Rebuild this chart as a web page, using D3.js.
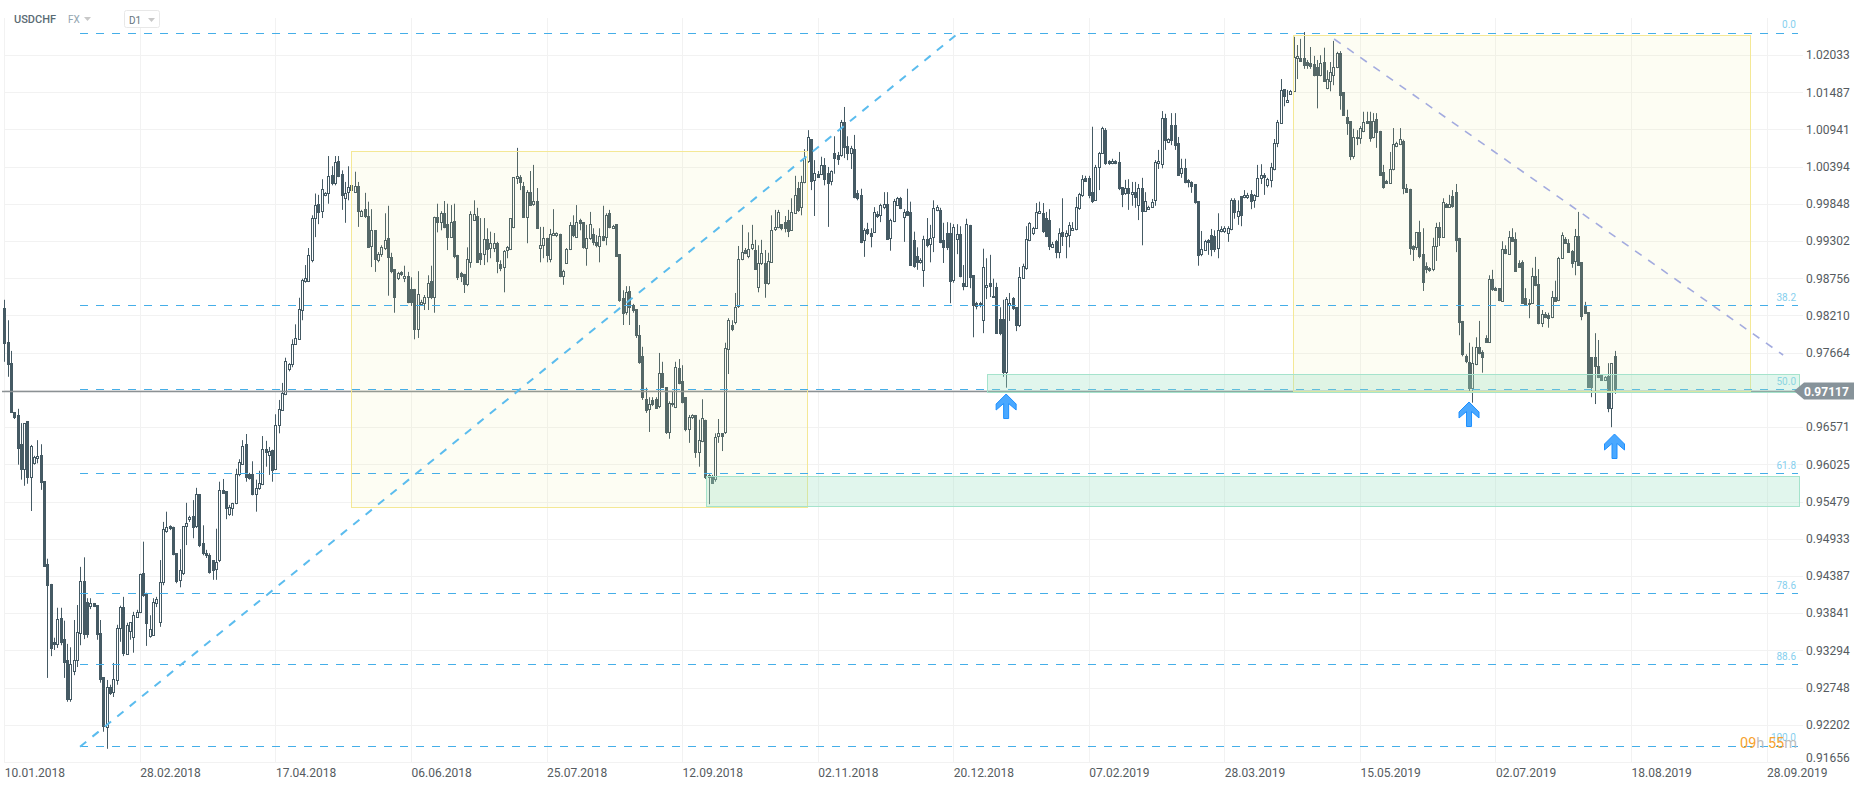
<!DOCTYPE html>
<html>
<head>
<meta charset="utf-8">
<title>USDCHF D1</title>
<script src="https://cdnjs.cloudflare.com/ajax/libs/d3/7.8.5/d3.min.js"></script>
<style>
  html, body { margin: 0; background: #fff; }
  svg { display: block; font-family: Roboto, sans-serif; }
  .axis path, .axis line { display: none; }
  .axis text { font-size: 12px; fill: #555b60; font-family: Roboto, sans-serif; }
</style>
</head>
<body>
<svg id="chart" width="1866" height="788"></svg>
<script>
// daily USDCHF candles
var opens = [
.9832,.9782,.9751,.9679,.9675,.9632,.9596,.9666,.9584,.9604,
.9612,.9616,.9578,.9456,.9427,.9342,.9339,.9377,.9346,.9315,
.9258,.9299,.9315,.9355,.9431,.9400,.9395,.9399,.9396,.9355,
.9290,.9218,.9276,.9268,.9286,.9362,.9393,.9324,.9358,.9349,
.9378,.9386,.9443,.9414,.9351,.9351,.9399,.9371,.9430,.9505,
.9512,.9511,.9472,.9433,.9443,.9511,.9522,.9527,.9512,.9559,
.9487,.9472,.9469,.9462,.9449,.9462,.9565,.9563,.9530,.9538,
.9546,.9588,.9604,.9632,.9588,.9588,.9559,.9568,.9574,.9625,
.9616,.9624,.9596,.9660,.9682,.9706,.9742,.9750,.9779,.9786,
.9829,.9872,.9872,.9902,.9964,.9985,.9973,.9998,1.0001,1.0027,
1.0015,1.0048,1.0029,.9993,1.0001,1.0004,1.0002,1.0011,.9967,.9977,
.9967,.9923,.9946,.9902,.9910,.9920,.9935,.9907,.9889,.9876,
.9885,.9876,.9879,.9860,.9860,.9801,.9838,.9839,.9848,.9872,
.9848,.9966,.9958,.9971,.9955,.9936,.9960,.9910,.9883,.9882,
.9867,.9899,.9961,.9967,.9913,.9911,.9933,.9919,.9919,.9927,
.9897,.9892,.9916,.9919,.9951,1.0023,1.0024,1.0011,.9966,1.0002,
.9985,.9989,.9919,.9924,.9935,.9904,.9939,.9939,.9941,.9879,
.9899,.9919,.9954,.9936,.9961,.9958,.9921,.9935,.9941,.9929,
.9924,.9938,.9936,.9971,.9949,.9955,.9911,.9847,.9825,.9857,
.9836,.9830,.9792,.9761,.9698,.9684,.9697,.9698,.9688,.9737,
.9716,.9650,.9692,.9687,.9744,.9725,.9701,.9654,.9672,.9675,
.9621,.9637,.9668,.9587,.9585,.9582,.9643,.9648,.9650,.9772,
.9807,.9811,.9835,.9904,.9917,.9908,.9920,.9917,.9863,.9898,
.9898,.9869,.9899,.9948,.9951,.9955,.9958,.9961,.9946,.9971,
1.0008,.9980,1.0017,1.0048,1.0080,1.0020,1.0029,1.0029,1.0042,1.0030,
1.0018,1.0059,1.0057,1.0057,1.0105,1.0070,1.0059,1.0065,1.0001,.9998,
.9932,.9948,.9942,.9943,.9970,.9968,.9980,.9985,.9935,.9960,
.9983,.9993,.9966,.9974,.9973,.9932,.9908,.9899,.9888,.9933,
.9926,.9936,.9976,.9976,.9932,.9942,.9942,.9873,.9933,.9941,
.9869,.9864,.9954,.9880,.9839,.9839,.9814,.9863,.9869,.9848,
.9863,.9816,.9816,.9738,.9836,.9847,.9833,.9807,.9877,.9891,
.9932,.9942,.9949,.9971,.9971,.9964,.9961,.9921,.9930,.9914,
.9944,.9938,.9939,.9946,.9948,.9979,.9998,1.0023,1.0023,1.0002,
.9990,1.0039,1.0059,1.0093,1.0048,1.0045,1.0048,1.0046,1.0009,1.0001,
1.0008,.9999,1.0002,.9983,1.0008,.9974,.9977,.9980,.9990,1.0045,
1.0043,1.0111,1.0076,1.0101,1.0101,1.0074,1.0029,1.0037,1.0020,1.0017,
1.0014,.9989,.9911,.9917,.9932,.9939,.9938,.9920,.9945,.9945,
.9942,.9948,.9990,.9967,.9996,.9995,.9995,.9999,.9990,.9996,
1.0023,1.0027,1.0012,1.0020,1.0036,1.0074,1.0103,1.0153,1.0134,1.0145,
1.0150,1.0199,1.0199,1.0199,1.0193,1.0192,1.0190,1.0186,1.0174,1.0193,
1.0155,1.0165,1.0174,1.0186,1.0206,1.0149,1.0112,1.0106,1.0055,1.0083,
1.0081,1.0092,1.0106,1.0106,1.0083,1.0109,1.0092,1.0032,1.0018,1.0015,
1.0036,1.0070,1.0073,1.0077,1.0008,1.0007,.9923,.9921,.9943,.9911,
.9894,.9891,.9889,.9923,.9951,.9936,.9985,.9980,.9996,1.0002,
.9935,.9813,.9761,.9753,.9715,.9750,.9775,.9767,.9788,.9782,
.9875,.9861,.9861,.9842,.9919,.9911,.9936,.9933,.9898,.9899,
.9847,.9838,.9839,.9879,.9867,.9810,.9823,.9822,.9819,.9848,
.9844,.9905,.9933,.9927,.9916,.9901,.9938,.9899,.9835,.9826,
.9760,.9760,.9747,.9734,.9726,.9732,.9685,.9761
];

var closes = [
.9781,.9750,.9679,.9672,.9627,.9596,.9663,.9584,.9630,.9613,
.9615,.9577,.9453,.9425,.9333,.9339,.9375,.9342,.9312,.9258,
.9309,.9315,.9356,.9431,.9353,.9353,.9399,.9395,.9353,.9287,
.9218,.9276,.9267,.9287,.9362,.9393,.9326,.9367,.9371,.9381,
.9386,.9442,.9411,.9370,.9361,.9400,.9405,.9430,.9508,.9511,
.9509,.9472,.9431,.9447,.9512,.9516,.9525,.9511,.9559,.9484,
.9472,.9469,.9444,.9447,.9459,.9565,.9560,.9538,.9540,.9546,
.9588,.9606,.9630,.9584,.9582,.9559,.9568,.9575,.9625,.9620,
.9622,.9594,.9660,.9684,.9707,.9754,.9750,.9779,.9788,.9830,
.9873,.9876,.9910,.9964,.9983,.9973,1.0006,1.0001,1.0026,1.0015,
1.0046,1.0026,.9998,1.0001,1.0009,1.0012,1.0011,.9974,.9974,.9966,
.9921,.9946,.9904,.9911,.9921,.9932,.9907,.9886,.9848,.9883,
.9882,.9879,.9841,.9841,.9801,.9853,.9841,.9848,.9869,.9848,
.9966,.9958,.9971,.9951,.9936,.9958,.9908,.9877,.9879,.9867,
.9904,.9970,.9970,.9899,.9904,.9933,.9919,.9927,.9927,.9901,
.9891,.9916,.9921,.9964,1.0024,1.0026,1.0017,.9966,1.0002,.9983,
.9989,.9949,.9924,.9935,.9910,.9941,.9942,.9942,.9879,.9886,
.9919,.9954,.9939,.9958,.9957,.9921,.9935,.9955,.9929,.9924,
.9938,.9932,.9968,.9951,.9952,.9908,.9844,.9825,.9855,.9833,
.9828,.9792,.9753,.9701,.9682,.9691,.9691,.9685,.9737,.9716,
.9650,.9692,.9690,.9745,.9722,.9694,.9654,.9672,.9675,.9621,
.9638,.9671,.9584,.9584,.9575,.9643,.9648,.9644,.9773,.9814,
.9801,.9833,.9904,.9914,.9913,.9919,.9926,.9889,.9898,.9913,
.9869,.9901,.9946,.9951,.9973,.9949,.9949,.9945,.9973,.9998,
.9976,1.0017,1.0052,1.0083,1.0018,1.0030,1.0024,1.0042,1.0021,1.0015,
1.0033,1.0052,1.0051,1.0105,1.0068,1.0059,1.0067,.9995,.9993,.9929,
.9946,.9942,.9938,.9973,.9967,.9983,.9985,.9933,.9961,.9989,
.9993,.9979,.9973,.9968,.9895,.9894,.9899,.9902,.9933,.9924,
.9935,.9979,.9980,.9929,.9921,.9921,.9872,.9951,.9941,.9880,
.9864,.9955,.9877,.9836,.9835,.9836,.9892,.9866,.9864,.9850,
.9795,.9795,.9738,.9845,.9839,.9832,.9806,.9877,.9894,.9933,
.9957,.9949,.9973,.9974,.9944,.9938,.9923,.9926,.9914,.9942,
.9938,.9942,.9954,.9949,.9980,.9999,1.0021,1.0018,.9998,.9989,
1.0039,1.0059,1.0096,1.0045,1.0045,1.0048,1.0045,1.0008,.9999,1.0008,
1.0001,1.0002,.9995,1.0008,.9974,.9989,.9980,.9987,1.0046,1.0048,
1.0111,1.0079,1.0080,1.0079,1.0071,1.0027,1.0037,1.0017,1.0017,1.0011,
.9988,.9910,.9919,.9930,.9929,.9919,.9919,.9946,.9948,.9949,
.9949,.9990,.9973,.9974,.9968,.9998,.9998,.9989,.9998,1.0023,
1.0027,1.0024,1.0021,1.0039,1.0074,1.0105,1.0152,1.0142,1.0137,1.0150,
1.0200,1.0202,1.0194,1.0189,1.0189,1.0187,1.0174,1.0174,1.0192,1.0165,
1.0168,1.0178,1.0186,1.0206,1.0145,1.0115,1.0103,1.0055,1.0083,1.0081,
1.0096,1.0105,1.0103,1.0081,1.0106,1.0090,1.0027,1.0010,1.0015,1.0036,
1.0073,1.0074,1.0080,1.0008,1.0002,.9921,.9919,.9943,.9908,.9870,
.9889,.9888,.9923,.9951,.9936,.9987,.9980,.9985,.9982,.9932,
.9811,.9764,.9753,.9715,.9751,.9775,.9766,.9759,.9782,.9875,
.9860,.9858,.9844,.9919,.9913,.9936,.9930,.9886,.9892,.9839,
.9838,.9839,.9879,.9866,.9810,.9823,.9819,.9817,.9848,.9842,
.9905,.9939,.9927,.9914,.9899,.9938,.9895,.9820,.9825,.9716,
.9716,.9747,.9731,.9726,.9731,.9685,.9751,.9712
];

var highs = [
.9844,.9814,.9769,.9679,.9684,.9663,.9663,.9666,.9631,.9615,
.9638,.9632,.9578,.9464,.9427,.9348,.9392,.9392,.9373,.9339,
.9334,.9374,.9396,.9452,.9466,.9406,.9406,.9399,.9396,.9374,
.9290,.9286,.9279,.9311,.9367,.9395,.9408,.9370,.9371,.9386,
.9389,.9442,.9489,.9414,.9381,.9406,.9408,.9462,.9518,.9533,
.9513,.9511,.9472,.9478,.9512,.9546,.9527,.9550,.9568,.9559,
.9513,.9477,.9472,.9462,.9508,.9577,.9581,.9563,.9543,.9546,
.9596,.9610,.9638,.9647,.9590,.9607,.9580,.9593,.9644,.9637,
.9628,.9624,.9676,.9697,.9722,.9759,.9751,.9786,.9808,.9847,
.9875,.9895,.9920,.9968,1.0000,.9998,1.0021,1.0002,1.0055,1.0040,
1.0055,1.0055,1.0034,1.0017,1.0040,1.0015,1.0032,1.0017,.9976,1.0001,
.9988,.9977,.9946,.9914,.9924,.9971,.9982,.9913,.9889,.9885,
.9886,.9894,.9885,.9877,.9860,.9886,.9844,.9851,.9880,.9894,
.9966,.9985,.9974,.9989,.9985,.9983,.9985,.9910,.9885,.9882,
.9921,.9974,.9990,.9979,.9964,.9964,.9949,.9944,.9942,.9929,
.9902,.9917,.9923,.9964,1.0024,1.0067,1.0027,1.0017,1.0005,1.0033,
1.0042,1.0008,.9951,.9951,.9935,.9948,.9977,.9943,.9941,.9888,
.9920,.9958,.9968,.9983,.9963,.9958,.9954,.9973,.9949,.9939,
.9949,.9982,.9971,.9976,.9954,.9955,.9911,.9858,.9864,.9864,
.9838,.9830,.9807,.9775,.9715,.9701,.9701,.9701,.9766,.9753,
.9716,.9695,.9709,.9753,.9757,.9748,.9701,.9675,.9676,.9675,
.9668,.9698,.9668,.9588,.9587,.9648,.9669,.9648,.9781,.9817,
.9814,.9854,.9923,.9954,.9920,.9943,.9954,.9932,.9924,.9932,
.9917,.9913,.9968,.9976,.9976,.9955,.9967,.9976,.9993,1.0026,
1.0017,1.0026,1.0065,1.0093,1.0080,1.0049,1.0033,1.0054,1.0052,1.0039,
1.0034,1.0084,1.0061,1.0108,1.0127,1.0084,1.0070,1.0086,1.0005,1.0007,
.9949,.9957,.9949,.9980,.9974,.9985,1.0002,1.0002,.9963,.9992,
.9995,.9995,.9977,1.0007,.9988,.9944,.9921,.9905,.9938,.9964,
.9954,.9990,.9983,.9979,.9957,.9958,.9957,.9955,.9955,.9952,
.9895,.9963,.9954,.9880,.9841,.9841,.9919,.9905,.9910,.9875,
.9869,.9833,.9844,.9848,.9854,.9848,.9833,.9892,.9897,.9952,
.9958,.9951,.9986,.9988,.9986,.9973,.9977,.9929,.9932,.9949,
.9993,.9946,.9958,.9958,.9995,1.0001,1.0027,1.0026,1.0026,1.0098,
1.0042,1.0061,1.0098,1.0096,1.0049,1.0051,1.0049,1.0061,1.0009,1.0020,
1.0021,1.0017,1.0017,1.0014,1.0023,1.0002,.9982,.9992,1.0049,1.0064,
1.0121,1.0117,1.0081,1.0118,1.0118,1.0083,1.0051,1.0051,1.0021,1.0018,
1.0014,.9989,.9945,.9932,.9933,.9948,.9946,.9971,.9952,.9952,
.9952,.9993,.9993,.9990,.9996,1.0005,1.0001,1.0005,.9999,1.0042,
1.0043,1.0030,1.0023,1.0045,1.0080,1.0108,1.0168,1.0153,1.0152,1.0152,
1.0230,1.0218,1.0227,1.0237,1.0196,1.0215,1.0202,1.0196,1.0203,1.0214,
1.0181,1.0193,1.0224,1.0208,1.0209,1.0149,1.0123,1.0106,1.0095,1.0093,
1.0099,1.0120,1.0120,1.0120,1.0118,1.0118,1.0092,1.0042,1.0020,1.0061,
1.0096,1.0076,1.0096,1.0079,1.0014,1.0007,.9924,.9943,.9960,.9949,
.9899,.9892,.9935,.9957,.9958,.9993,.9986,.9998,1.0005,1.0014,
.9935,.9813,.9764,.9781,.9775,.9789,.9813,.9770,.9792,.9880,
.9888,.9863,.9861,.9930,.9924,.9945,.9949,.9943,.9902,.9902,
.9861,.9845,.9891,.9907,.9889,.9829,.9826,.9825,.9857,.9872,
.9907,.9943,.9936,.9933,.9917,.9948,.9973,.9899,.9841,.9826,
.9760,.9795,.9785,.9735,.9732,.9751,.9751,.9769
];

var lows = [
.9753,.9731,.9679,.9669,.9602,.9580,.9571,.9574,.9534,.9602,
.9604,.9565,.9452,.9289,.9321,.9330,.9333,.9337,.9289,.9254,
.9254,.9293,.9305,.9337,.9346,.9348,.9390,.9393,.9345,.9282,
.9210,.9185,.9264,.9261,.9279,.9342,.9321,.9323,.9345,.9326,
.9377,.9384,.9408,.9336,.9348,.9351,.9393,.9364,.9425,.9502,
.9506,.9469,.9428,.9422,.9440,.9484,.9518,.9494,.9509,.9481,
.9469,.9465,.9442,.9433,.9433,.9459,.9559,.9522,.9527,.9527,
.9544,.9585,.9602,.9577,.9580,.9557,.9533,.9565,.9572,.9599,
.9587,.9577,.9594,.9648,.9681,.9704,.9739,.9745,.9778,.9785,
.9814,.9869,.9870,.9899,.9936,.9955,.9964,.9996,.9985,1.0012,
1.0012,1.0024,.9976,.9957,.9990,1.0001,1.0001,.9951,.9966,.9964,
.9920,.9892,.9885,.9899,.9907,.9917,.9850,.9883,.9825,.9873,
.9879,.9870,.9839,.9835,.9786,.9788,.9836,.9829,.9829,.9845,
.9825,.9943,.9946,.9949,.9917,.9935,.9905,.9873,.9870,.9854,
.9864,.9891,.9960,.9898,.9895,.9895,.9899,.9905,.9914,.9883,
.9886,.9855,.9905,.9917,.9949,1.0014,1.0005,.9964,.9927,.9982,
.9982,.9948,.9899,.9905,.9899,.9899,.9938,.9936,.9877,.9866,
.9898,.9917,.9936,.9935,.9946,.9919,.9894,.9932,.9924,.9921,
.9899,.9930,.9924,.9949,.9948,.9907,.9841,.9807,.9822,.9807,
.9825,.9788,.9750,.9697,.9678,.9650,.9688,.9684,.9685,.9715,
.9647,.9640,.9687,.9685,.9720,.9692,.9651,.9634,.9669,.9612,
.9599,.9635,.9581,.9544,.9574,.9577,.9634,.9622,.9647,.9735,
.9798,.9808,.9832,.9902,.9911,.9905,.9917,.9888,.9855,.9895,
.9847,.9866,.9898,.9945,.9949,.9946,.9943,.9936,.9945,.9970,
.9973,.9968,1.0015,1.0045,1.0005,.9967,1.0023,1.0027,1.0012,.9951,
1.0012,1.0029,1.0042,1.0054,1.0052,1.0049,1.0036,.9993,.9990,.9927,
.9907,.9939,.9921,.9942,.9964,.9958,.9977,.9932,.9916,.9958,
.9982,.9977,.9929,.9967,.9894,.9891,.9888,.9897,.9863,.9921,
.9899,.9914,.9974,.9927,.9898,.9917,.9839,.9869,.9911,.9877,
.9858,.9863,.9861,.9789,.9830,.9833,.9795,.9845,.9848,.9847,
.9794,.9792,.9731,.9715,.9813,.9829,.9798,.9804,.9876,.9888,
.9930,.9939,.9948,.9970,.9942,.9936,.9917,.9920,.9905,.9905,
.9923,.9905,.9921,.9945,.9946,.9976,.9995,1.0017,.9993,.9986,
.9989,1.0005,1.0058,1.0042,1.0042,1.0043,1.0043,1.0005,.9980,.9998,
.9976,.9982,.9979,.9961,.9924,.9973,.9976,.9979,.9982,1.0036,
1.0037,1.0064,1.0074,1.0071,1.0064,1.0026,1.0023,1.0015,1.0009,1.0001,
.9985,.9894,.9908,.9916,.9910,.9908,.9914,.9905,.9943,.9942,
.9929,.9946,.9963,.9954,.9952,.9993,.9992,.9977,.9979,.9995,
1.0014,.9998,1.0009,1.0009,1.0034,1.0068,1.0103,1.0128,1.0133,1.0145,
1.0149,1.0168,1.0193,1.0183,1.0183,1.0183,1.0172,1.0125,1.0172,1.0164,
1.0153,1.0150,1.0159,1.0184,1.0123,1.0114,1.0086,1.0049,1.0051,1.0071,
1.0073,1.0090,1.0102,1.0076,1.0081,1.0067,1.0026,1.0007,1.0014,1.0014,
1.0034,1.0068,1.0071,.9999,1.0001,.9910,.9901,.9917,.9905,.9857,
.9883,.9885,.9886,.9901,.9923,.9935,.9979,.9979,.9979,.9914,
.9792,.9761,.9751,.9710,.9693,.9748,.9764,.9737,.9781,.9781,
.9857,.9857,.9842,.9841,.9911,.9910,.9929,.9885,.9891,.9838,
.9836,.9817,.9838,.9864,.9808,.9804,.9817,.9803,.9817,.9841,
.9842,.9904,.9926,.9913,.9891,.9880,.9894,.9814,.9823,.9715,
.9701,.9691,.9729,.9725,.9725,.9679,.9657,.9706
];

var dateLabels = ["10.01.2018", "28.02.2018", "17.04.2018", "06.06.2018", "25.07.2018", "12.09.2018", "02.11.2018",
  "20.12.2018", "07.02.2019", "28.03.2019", "15.05.2019", "02.07.2019", "18.08.2019", "28.09.2019"];
var dateIndex = [0, 41, 82, 123, 164, 205, 246, 287, 328, 369, 410, 451, 492, 533];

var priceTicks = [1.02033, 1.01487, 1.00941, 1.00394, 0.99848, 0.99302, 0.98756, 0.98210, 0.97664, 0.97117,
  0.96571, 0.96025, 0.95479, 0.94933, 0.94387, 0.93841, 0.93294, 0.92748, 0.92202, 0.91656];
var lastPrice = 0.97117;

// fibonacci retracement
var fibLevels = [0, 38.2, 50, 61.8, 78.6, 88.6, 100];
var fibHigh = 1.0235, fibLow = 0.9189;
var fibStart = 22.9, fibEnd = 542.5;
var fibDiagonal = [[22.9, 0.9188], [288.7, 1.0236]];
var trendLine = [[402.2, 1.02268], [538, 0.97630]];

// [first candle, last candle, top price, bottom price]
var yellowBoxes = [[105, 242.8, 1.0063, 0.9541], [389.8, 527.9, 1.0232, 0.97094]];
var greenBoxes = [[297.1, 542.6, 0.97358, 0.97101], [212.1, 542.6, 0.95861, 0.95428]];

// [candle, price of the tip]
var arrows = [[303, 0.97057], [443, 0.9694], [487, 0.9647]];

var gridRight = 1803, gridTop = 18, gridBottom = 762;

var svg = d3.select('#chart');

var x = d3.scaleLinear().domain([0, 533]).range([4.3, 1766.6]);
var y = d3.scaleLinear().domain([0.91656, 1.02033]).range([762, 55]);

function crisp(v) { return Math.round(v) + 0.5; }

function drawGrid() {
  var grid = svg.append('g').attr('stroke', '#f2f2f2');
  grid.selectAll('line.h').data(priceTicks).enter().append('line')
    .attr('class', 'h')
    .attr('x1', 4).attr('x2', gridRight)
    .attr('y1', function (d) { return crisp(y(d)) }).attr('y2', function (d) { return crisp(y(d)) });
  grid.selectAll('line.v').data(dateIndex).enter().append('line')
    .attr('class', 'v')
    .attr('x1', function (d) { return crisp(x(d)) }).attr('x2', function (d) { return crisp(x(d)) })
    .attr('y1', gridTop).attr('y2', gridBottom);
}

function drawCandles() {
  var color = '#455a64';
  var candles = svg.append('g').selectAll('g').data(d3.range(closes.length)).enter().append('g');

  candles.append('line')
    .attr('stroke', color)
    .attr('x1', function (i) { return crisp(x(i)) }).attr('x2', function (i) { return crisp(x(i)) })
    .attr('y1', function (i) { return y(highs[i]) }).attr('y2', function (i) { return y(lows[i]) });

  candles.append('rect')
    .attr('x', function (i) { return Math.round(x(i)) - 0.5 })
    .attr('width', 2)
    .attr('y', function (i) { return crisp(y(Math.max(opens[i], closes[i]))) })
    .attr('height', function (i) { return Math.max(1, Math.round(Math.abs(y(opens[i]) - y(closes[i])))) })
    .attr('stroke', color)
    .attr('fill', function (i) { return closes[i] >= opens[i] ? '#fff' : color });
}

function drawBoxes() {
  svg.append('g').selectAll('rect').data(yellowBoxes).enter().append('rect')
    .attr('x', function (d) { return crisp(x(d[0])) })
    .attr('width', function (d) { return Math.round(x(d[1]) - x(d[0])) })
    .attr('y', function (d) { return crisp(y(d[2])) })
    .attr('height', function (d) { return Math.round(y(d[3]) - y(d[2])) })
    .attr('fill', 'rgba(235,235,135,.1)')
    .attr('stroke', '#f4e896');
}

function drawFib() {
  var g = svg.append('g');
  var span = fibHigh - fibLow;
  function level(d) { return fibHigh - span * d / 100 }
  function levelY(d) { return crisp(y(level(d)) - 0.45) }

  g.selectAll('line').data(fibLevels).enter().append('line')
    .attr('x1', x(fibStart)).attr('x2', x(fibEnd))
    .attr('y1', levelY).attr('y2', levelY)
    .attr('stroke', '#45aee8')
    .attr('stroke-dasharray', '8 8');

  g.selectAll('text').data(fibLevels).enter().append('text')
    .attr('x', x(fibEnd) - 2)
    .attr('y', function (d) { return y(level(d)) - 5 })
    .attr('text-anchor', 'end')
    .attr('font-size', 10)
    .attr('fill', '#86cfee')
    .text(function (d) { return d.toFixed(1) });
}

function drawPriceLine() {
  svg.append('line')
    .attr('x1', 2).attr('x2', 1795)
    .attr('y1', 391.5).attr('y2', 391.5)
    .attr('stroke', '#8b9194')
    .attr('stroke-width', 1.4);
}

function drawZones() {
  svg.append('g').selectAll('rect').data(greenBoxes).enter().append('rect')
    .attr('x', function (d) { return crisp(x(d[0])) })
    .attr('width', function (d) { return Math.round(x(d[1]) - x(d[0])) })
    .attr('y', function (d) { return crisp(y(d[2])) })
    .attr('height', function (d) { return Math.round(y(d[3]) - y(d[2])) })
    .attr('fill', 'rgba(155,224,196,.3)')
    .attr('stroke', '#a5e3cc');
}

function drawDiagonals() {
  var line = d3.line().x(function (d) { return x(d[0]) }).y(function (d) { return y(d[1]) });
  svg.append('path').attr('d', line(fibDiagonal))
    .attr('fill', 'none')
    .attr('stroke', '#5bbcee')
    .attr('stroke-width', 2)
    .attr('stroke-dasharray', '8 8');
  svg.append('path').attr('d', line(trendLine))
    .attr('fill', 'none')
    .attr('stroke', '#a3abdf')
    .attr('stroke-width', 1.6)
    .attr('stroke-dasharray', '8 8');
}

function drawArrows() {
  var shape = 'M0,0 L10,10 L10,16 L2.5,9.5 L2.5,24.5 L-2.5,24.5 L-2.5,9.5 L-10,16 L-10,10 Z';
  svg.append('g').selectAll('path').data(arrows).enter().append('path')
    .attr('d', shape)
    .attr('transform', function (d) { return 'translate(' + x(d[0]) + ',' + y(d[1]) + ')' })
    .attr('fill', '#4aa8ff')
    .attr('stroke', '#1e90ff');
}

function drawAxes() {
  var yAxis = d3.axisRight(y)
    .tickValues(priceTicks.filter(function (d) { return d !== lastPrice }))
    .tickSize(0)
    .tickFormat(d3.format('.5f'));
  var yg = svg.append('g').attr('class', 'axis').attr('transform', 'translate(1803,0)').call(yAxis);
  yg.selectAll('text').attr('x', 3);
  yg.selectAll('.tick').filter(function (d) { return d === 0.91656 }).select('text').attr('dy', '-0.02em');

  var xAxis = d3.axisBottom(x)
    .tickValues(dateIndex)
    .tickSize(0)
    .tickFormat(function (d, i) { return dateLabels[i] });
  var xg = svg.append('g').attr('class', 'axis').attr('transform', 'translate(0,762)').call(xAxis);
  xg.selectAll('text').attr('text-anchor', 'start').attr('y', 6).attr('dy', '0.71em');
  xg.selectAll('.tick text').attr('x', 0);
}

function drawLastTag() {
  var py = 391;
  svg.append('path')
    .attr('d', 'M1794,' + py + ' L1804,' + (py - 8.5) + ' L1854,' + (py - 8.5) + ' L1854,' + (py + 8.5) + ' L1804,' + (py + 8.5) + ' Z')
    .attr('fill', '#87939a');
  svg.append('text')
    .attr('x', 1804).attr('y', py + 4.5)
    .attr('font-size', 12).attr('font-weight', 700)
    .attr('fill', '#fff')
    .text(d3.format('.5f')(lastPrice));
}

function drawHeader() {
  svg.append('text').attr('x', 14).attr('y', 23)
    .attr('font-size', 11).attr('font-weight', 500).attr('fill', '#5a6b74').text('USDCHF');
  svg.append('text').attr('x', 68).attr('y', 23)
    .attr('font-size', 10).attr('fill', '#93a5b0').text('FX');
  svg.append('path').attr('d', 'M84,17 L91,17 L87.5,21 Z').attr('fill', '#c8c8c8');
  svg.append('rect').attr('x', 124.5).attr('y', 10.5).attr('width', 35).attr('height', 17).attr('rx', 2)
    .attr('fill', '#fff').attr('stroke', '#e8e8e8');
  svg.append('text').attr('x', 129).attr('y', 24)
    .attr('font-size', 10).attr('fill', '#66757d').text('D1');
  svg.append('path').attr('d', 'M148,18 L155,18 L151.5,22 Z').attr('fill', '#c8c8c8');
}

function drawCountdown() {
  var t = svg.append('text').attr('x', 1740).attr('y', 748).attr('font-size', 14.5);
  t.append('tspan').attr('fill', '#f7a32e').text('09');
  t.append('tspan').attr('fill', '#bdbdbd').text('h ');
  t.append('tspan').attr('fill', '#f7a32e').text('55');
  t.append('tspan').attr('fill', '#bdbdbd').text('m');
}

drawGrid();
drawCandles();
drawPriceLine();
drawBoxes();
drawFib();
drawZones();
drawDiagonals();
drawArrows();
drawAxes();
drawLastTag();
drawHeader();
drawCountdown();
</script>
</body>
</html>
